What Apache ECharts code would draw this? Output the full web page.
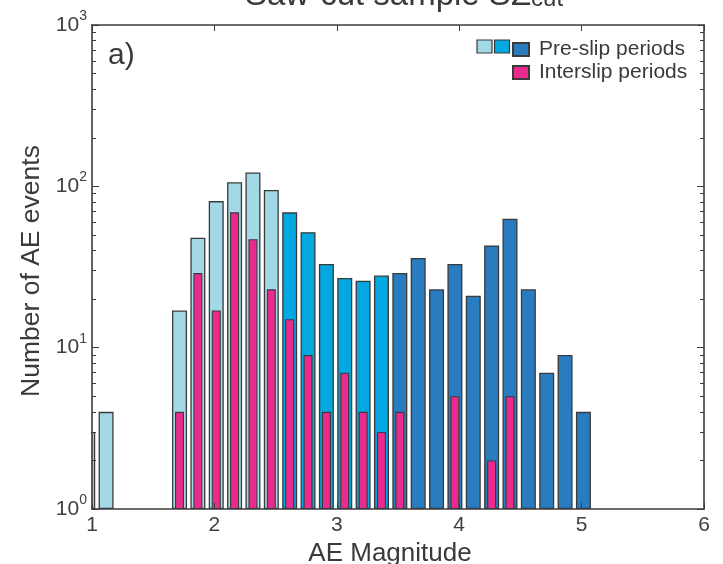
<!DOCTYPE html>
<html>
<head>
<meta charset="utf-8">
<script src="https://cdn.jsdelivr.net/npm/echarts@6/dist/echarts.min.js"></script>
<style>html,body{margin:0;padding:0;background:#fff}#c{width:723px;height:564px}</style>
</head>
<body>
<div id="c"></div>
<script>
// Bin centres (AE magnitude)
const magnitudes = [0.965, 1.115, 1.265, 1.415, 1.565, 1.715, 1.865, 2.015, 2.165, 2.315, 2.465, 2.615, 2.765, 2.915, 3.065, 3.215, 3.365, 3.515, 3.665, 3.815, 3.965, 4.115, 4.265, 4.415, 4.565, 4.715, 4.865, 5.015];
// Pre-slip period counts
const preSlip = [3, 4, 0, 0, 0, 17, 48, 81, 106, 122, 95, 69, 52, 33, 27, 26, 28, 29, 36, 23, 33, 21, 43, 63, 23, 7, 9, 4];
// Shade group of each pre-slip bin
const preSlipShade = ['light','light','light','light','light','light','light','light','light','light','light','medium','medium','medium','medium','medium','medium','dark','dark','dark','dark','dark','dark','dark','dark','dark','dark','dark'];
// Interslip period counts
const interslip = [0, 0, 0, 0, 0, 4, 29, 17, 69, 47, 23, 15, 9, 4, 7, 4, 3, 4, 0, 0, 5, 0, 2, 5, 0, 0, 0, 0];
// Tick labels
const xTicks = [1, 2, 3, 4, 5, 6];
const yExponents = [0, 1, 2, 3];

const COLORS = { light: '#a3d9e6', medium: '#03a8e0', dark: '#2a7cc0', pink: '#ea2a8d' };
const EDGE = '#3a3a3a';
const AX = '#3c3c3c';

function shadeData(shade) {
  return magnitudes.map((m, i) => [m, (preSlipShade[i] === shade && preSlip[i] > 0) ? preSlip[i] : '-']);
}
const pinkData = magnitudes.map((m, i) => [m, interslip[i] > 0 ? interslip[i] : '-']);

const minorVals = [];
for (let d = 0; d < 3; d++) for (let k = 2; k <= 9; k++) minorVals.push(k * Math.pow(10, d));
const majorVals = yExponents.map(e => Math.pow(10, e));

const baseX = { type: 'value', min: 1, max: 6, interval: 1, splitLine: { show: false }, z: 10 };
const baseY = { type: 'log', logBase: 10, min: 1, max: 1000, splitLine: { show: false }, z: 10 };

const GL = 92, GR = 19, GT = 25, GB = 55;

const chart = echarts.init(document.getElementById('c'), null, { renderer: 'canvas' });
chart.setOption({
  animation: false,
  textStyle: { fontFamily: 'Liberation Sans, Arial, sans-serif' },
  grid: { left: GL, right: GR, top: GT, bottom: GB, containLabel: false, outerBoundsMode: 'none' },
  xAxis: [
    Object.assign({}, baseX, {
      position: 'bottom',
      name: 'AE Magnitude', nameLocation: 'middle', nameGap: 25,
      nameTextStyle: { fontSize: 26, color: '#3a3a3a', fontFamily: 'Liberation Sans', padding: [0, 16, 0, 0] },
      axisLine: { lineStyle: { color: AX, width: 1.6 } },
      axisTick: { inside: true, length: 6, lineStyle: { color: AX, width: 1 } },
      axisLabel: { margin: 6, fontSize: 21, color: '#404040', fontFamily: 'Liberation Sans',
        customValues: xTicks, formatter: v => String(v) }
    }),
    Object.assign({}, baseX, { show: false }),
    Object.assign({}, baseX, {
      position: 'top',
      axisLine: { lineStyle: { color: AX, width: 1.6 } },
      axisTick: { inside: true, length: 6, lineStyle: { color: AX, width: 1 } },
      axisLabel: { show: false }
    })
  ],
  yAxis: [
    Object.assign({}, baseY, {
      position: 'left',
      name: 'Number of AE events', nameLocation: 'middle', nameGap: 42,
      nameTextStyle: { fontSize: 26.5, color: '#3a3a3a', fontFamily: 'Liberation Sans', padding: [0, 8, 0, 0] },
      axisLine: { lineStyle: { color: AX, width: 1.6 } },
      axisTick: { inside: true, length: 7, lineStyle: { color: AX, width: 1 }, customValues: majorVals },
      axisLabel: {
        margin: 5, color: '#404040', customValues: majorVals,
        formatter: v => '{b|10}{s|' + Math.round(Math.log10(v)) + '}',
        rich: {
          b: { fontSize: 21, color: '#404040', fontFamily: 'Liberation Sans' },
          s: { fontSize: 14, color: '#404040', fontFamily: 'Liberation Sans', lineHeight: 14, padding: [0, 0, 18, 0] }
        }
      }
    }),
    Object.assign({}, baseY, {
      position: 'left',
      axisLine: { show: false },
      axisTick: { inside: true, length: 4, lineStyle: { color: AX, width: 1 }, customValues: minorVals },
      axisLabel: { show: false }
    }),
    Object.assign({}, baseY, {
      position: 'right',
      axisLine: { lineStyle: { color: AX, width: 1.6 } },
      axisTick: { inside: true, length: 7, lineStyle: { color: AX, width: 1 }, customValues: majorVals },
      axisLabel: { show: false }
    }),
    Object.assign({}, baseY, {
      position: 'right',
      axisLine: { show: false },
      axisTick: { inside: true, length: 4, lineStyle: { color: AX, width: 1 }, customValues: minorVals },
      axisLabel: { show: false }
    })
  ],
  legend: {
    data: ['Pre-slip periods', 'Interslip periods'],
    orient: 'vertical', left: 507, top: 34, itemWidth: 16, itemHeight: 13, itemGap: 2,
    icon: 'rect', selectedMode: false,
    textStyle: { fontSize: 21, color: '#3a3a3a', fontFamily: 'Liberation Sans', padding: [0, 0, 0, 5] }
  },
  graphic: [
    // mask for the part of the first bin that lies left of the plot area
    { type: 'rect', shape: { x: 60, y: 380, width: GL - 60 - 0.8, height: 564 - GB - 380 }, style: { fill: '#fff' }, z: 5, silent: true },
    { type: 'rect', shape: { x: 477, y: 40, width: 15, height: 13 }, style: { fill: COLORS.light, stroke: EDGE, lineWidth: 1.2 }, z: 100 },
    { type: 'rect', shape: { x: 494.5, y: 40, width: 15, height: 13 }, style: { fill: COLORS.medium, stroke: EDGE, lineWidth: 1.2 }, z: 100 },
    { type: 'text', style: { x: 108, y: 56, text: 'a)', font: '30px "Liberation Sans"', fill: '#3a3a3a', verticalAlign: 'middle' }, z: 100 },
    { type: 'text', style: {
        x: 404, y: -4, align: 'center', verticalAlign: 'middle',
        text: '{m|Saw-cut sample SZ}{s|cut}',
        rich: {
          m: { font: '33px "Liberation Sans"', fill: '#3a3a3a' },
          s: { font: '24px "Liberation Sans"', fill: '#3a3a3a', padding: [7, 0, 0, 0] }
        }
      }, z: 100 }
  ],
  series: [
    { name: 'light', type: 'bar', xAxisIndex: 0, yAxisIndex: 0, barWidth: 15, barGap: '-100%', clip: true,
      data: shadeData('light'), itemStyle: { color: COLORS.light, borderColor: EDGE, borderWidth: 1.3 } },
    { name: 'medium', type: 'bar', xAxisIndex: 0, yAxisIndex: 0, barWidth: 15, barGap: '-100%', clip: true,
      data: shadeData('medium'), itemStyle: { color: COLORS.medium, borderColor: EDGE, borderWidth: 1.3 } },
    { name: 'Pre-slip periods', type: 'bar', xAxisIndex: 0, yAxisIndex: 0, barWidth: 15, barGap: '-100%', clip: true,
      data: shadeData('dark'), itemStyle: { color: COLORS.dark, borderColor: EDGE, borderWidth: 1.3 } },
    { name: 'Interslip periods', type: 'bar', xAxisIndex: 1, yAxisIndex: 0, barWidth: 9, clip: true,
      data: pinkData, itemStyle: { color: COLORS.pink, borderColor: EDGE, borderWidth: 1.1 } }
  ]
});
</script>
</body>
</html>
